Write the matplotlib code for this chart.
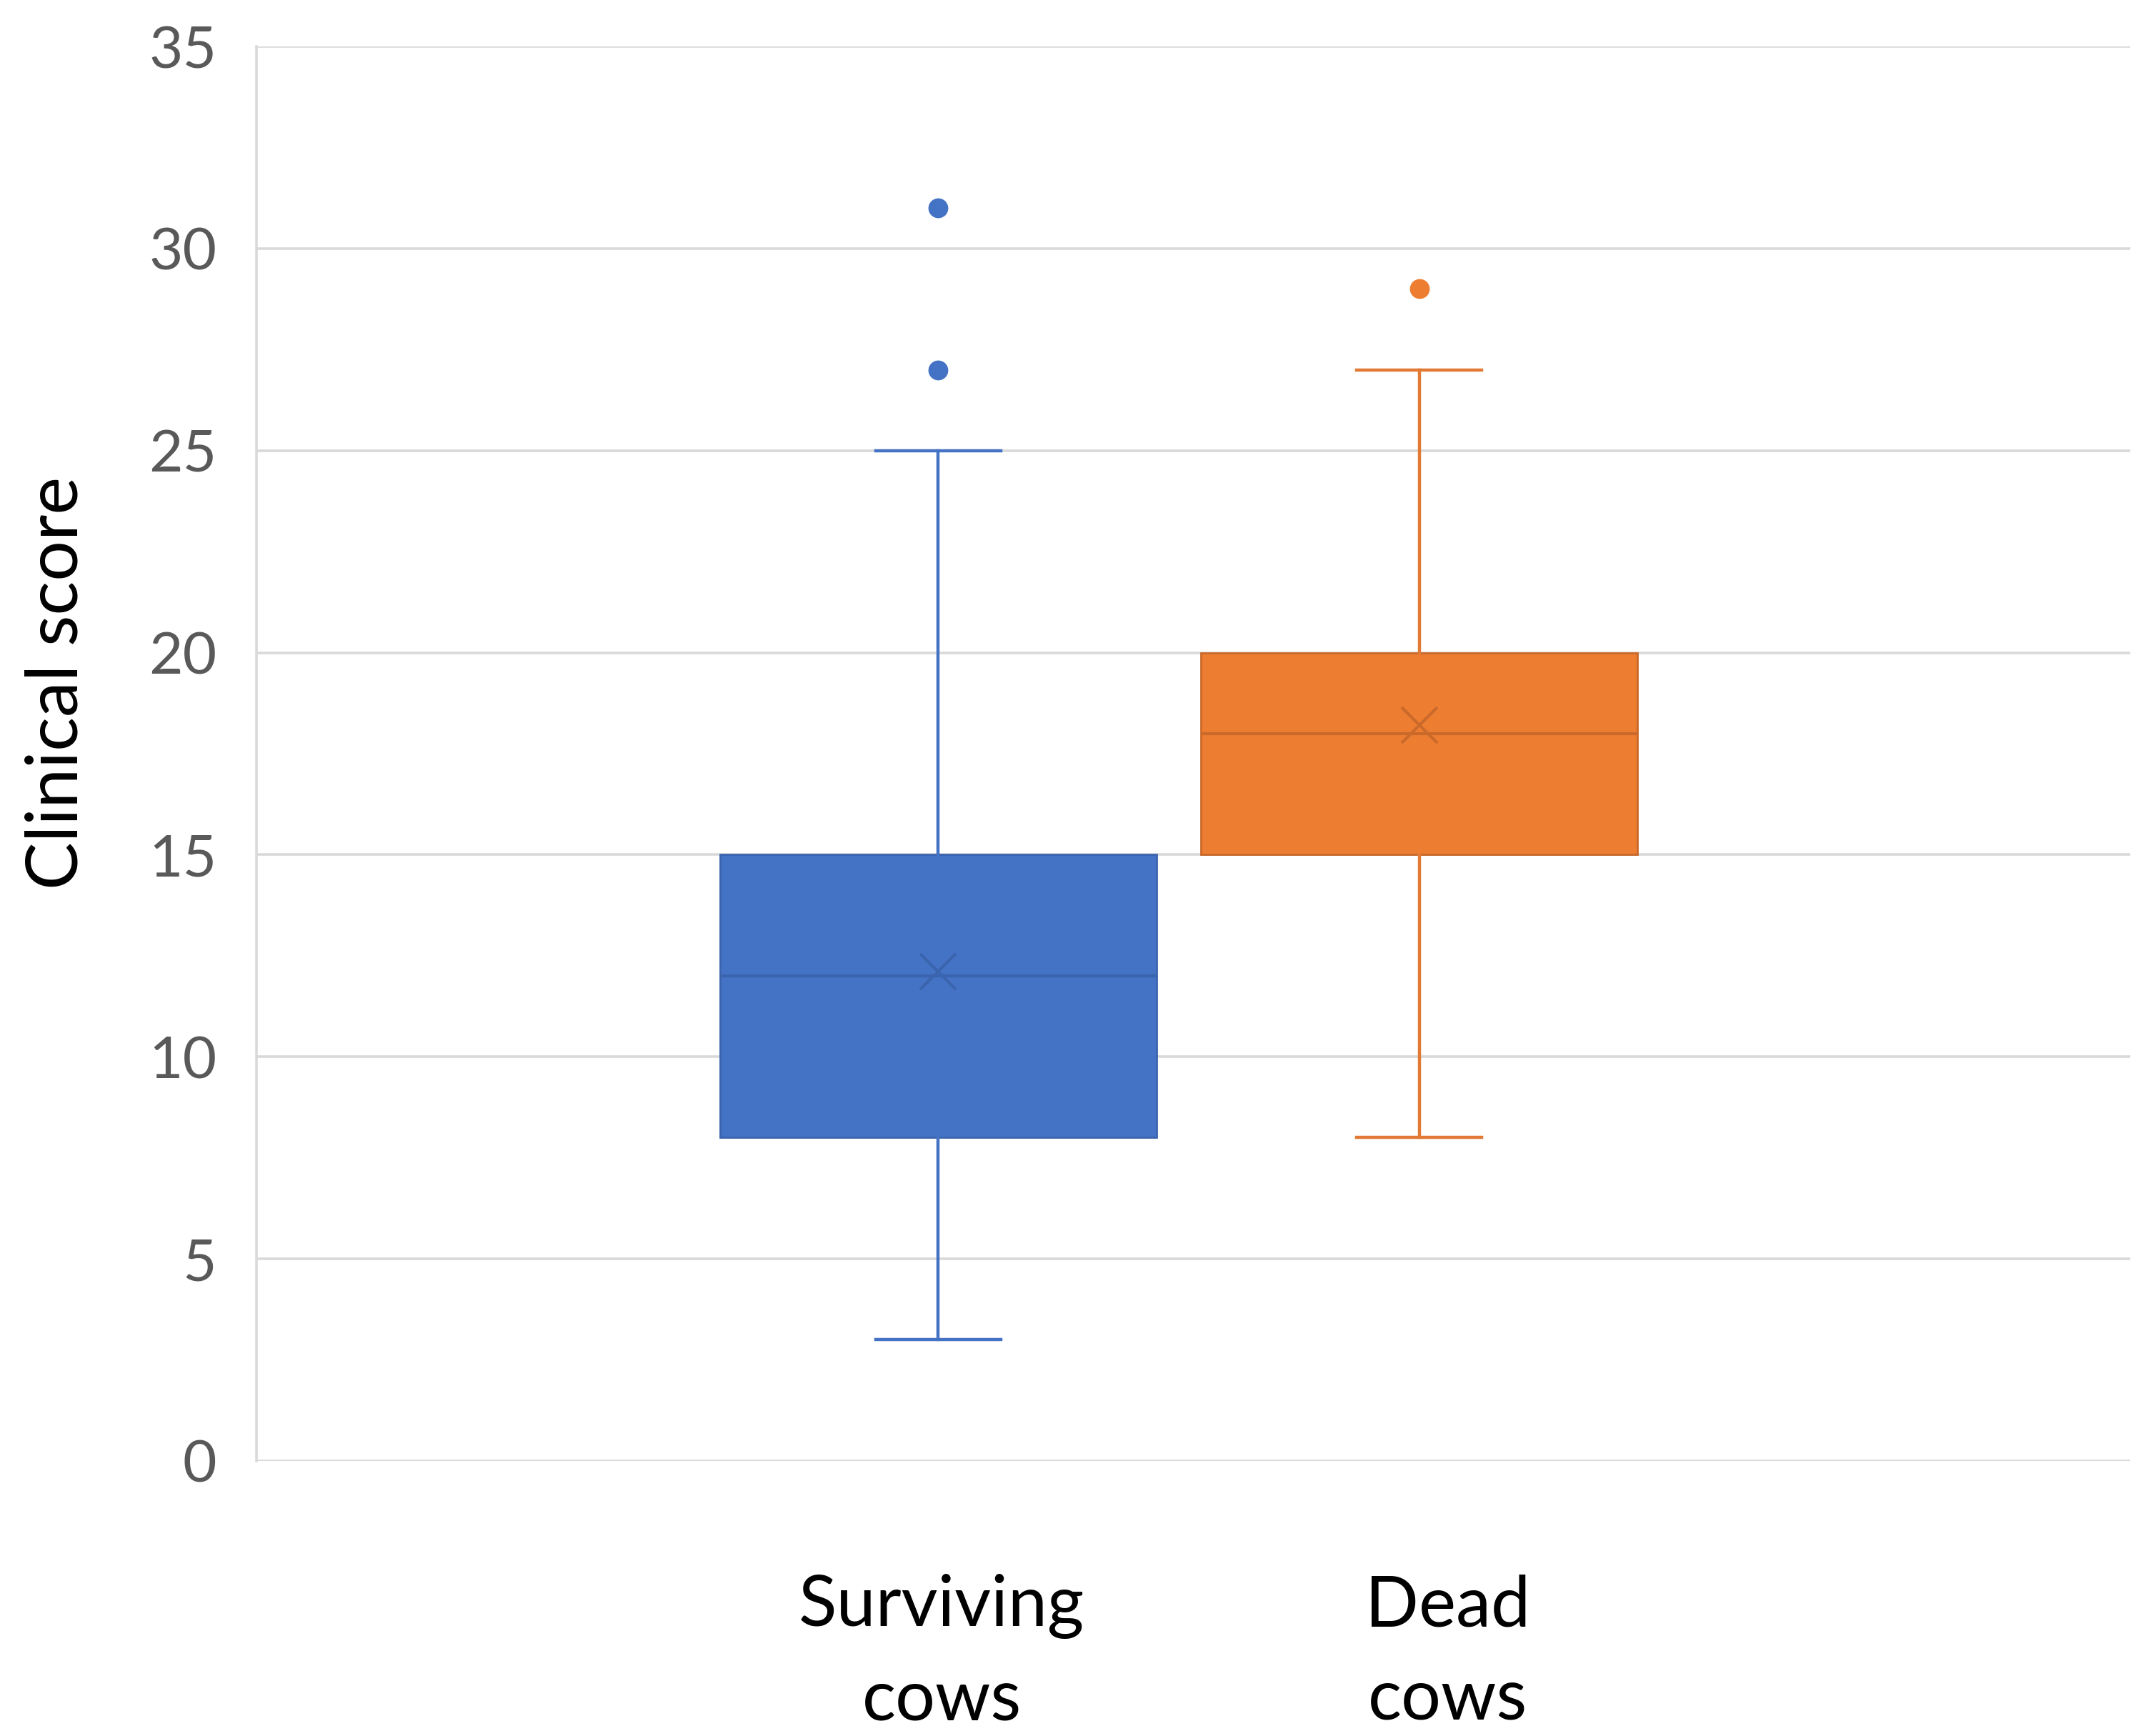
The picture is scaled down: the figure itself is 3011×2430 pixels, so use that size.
import matplotlib.pyplot as plt

# Box statistics (Excel-style box & whisker)
groups = ['Surviving\ncows', 'Dead\ncows']
whislo = [3, 8]
q1 = [8, 15]
med = [12, 18]
q3 = [15, 20]
whishi = [25, 27]
means = [12.1, 18.2]
outliers = [[27, 31], [29]]

fill_colors = ['#4472C4', '#ED7D31']
edge_colors = ['#3B64AE', '#C9692A']
line_colors = ['#4472C4', '#E27934']

plt.rcParams['font.family'] = ['Lato', 'DejaVu Sans']

fig = plt.figure(figsize=(30.11, 24.30), dpi=100)
ax = fig.add_axes([0.11923, 0.15844, 0.87114, 0.81481])

positions = [1, 2]
for i in range(len(groups)):
    stats = [{
        'whislo': whislo[i], 'q1': q1[i], 'med': med[i], 'q3': q3[i],
        'whishi': whishi[i], 'mean': means[i], 'fliers': outliers[i],
    }]
    ax.bxp(stats, positions=[positions[i]], widths=0.908, capwidths=0.26,
           patch_artist=True, showmeans=True, manage_ticks=False,
           boxprops=dict(facecolor=fill_colors[i], edgecolor=edge_colors[i], linewidth=2.0),
           medianprops=dict(color=edge_colors[i], linewidth=3.0),
           whiskerprops=dict(color=line_colors[i], linewidth=3.2),
           capprops=dict(color=line_colors[i], linewidth=3.2),
           meanprops=dict(marker='x', markersize=36, markeredgewidth=2.8,
                          markeredgecolor=edge_colors[i]),
           flierprops=dict(marker='o', markersize=20, markerfacecolor=fill_colors[i],
                           markeredgecolor='none'))

ax.set_xlim(-0.418, 3.479)
ax.set_ylim(0, 35)
ax.set_yticks(range(0, 36, 5))
ax.set_xticks([])
ax.tick_params(axis='y', length=0, pad=40, labelsize=59, labelcolor='#595959')
ax.yaxis.grid(True, color='#D9D9D9', linewidth=2.6)
ax.set_axisbelow(True)
for side in ['top', 'right', 'bottom']:
    ax.spines[side].set_visible(False)
ax.spines['left'].set_color('#D9D9D9')
ax.spines['left'].set_linewidth(2.6)

# category labels under each box
label_x = [1.007, 2.06]
for x, lab in zip(label_x, groups):
    ax.text(x, -0.08, lab, transform=ax.get_xaxis_transform(), ha='center', va='top',
            fontsize=71, color='black', linespacing=1.56)

fig.text(80 / 3011, 1 - 956 / 2430, 'Clinical score', rotation=90, ha='center', va='center',
         fontsize=72, color='black')

fig.savefig('out.png', dpi=100)
